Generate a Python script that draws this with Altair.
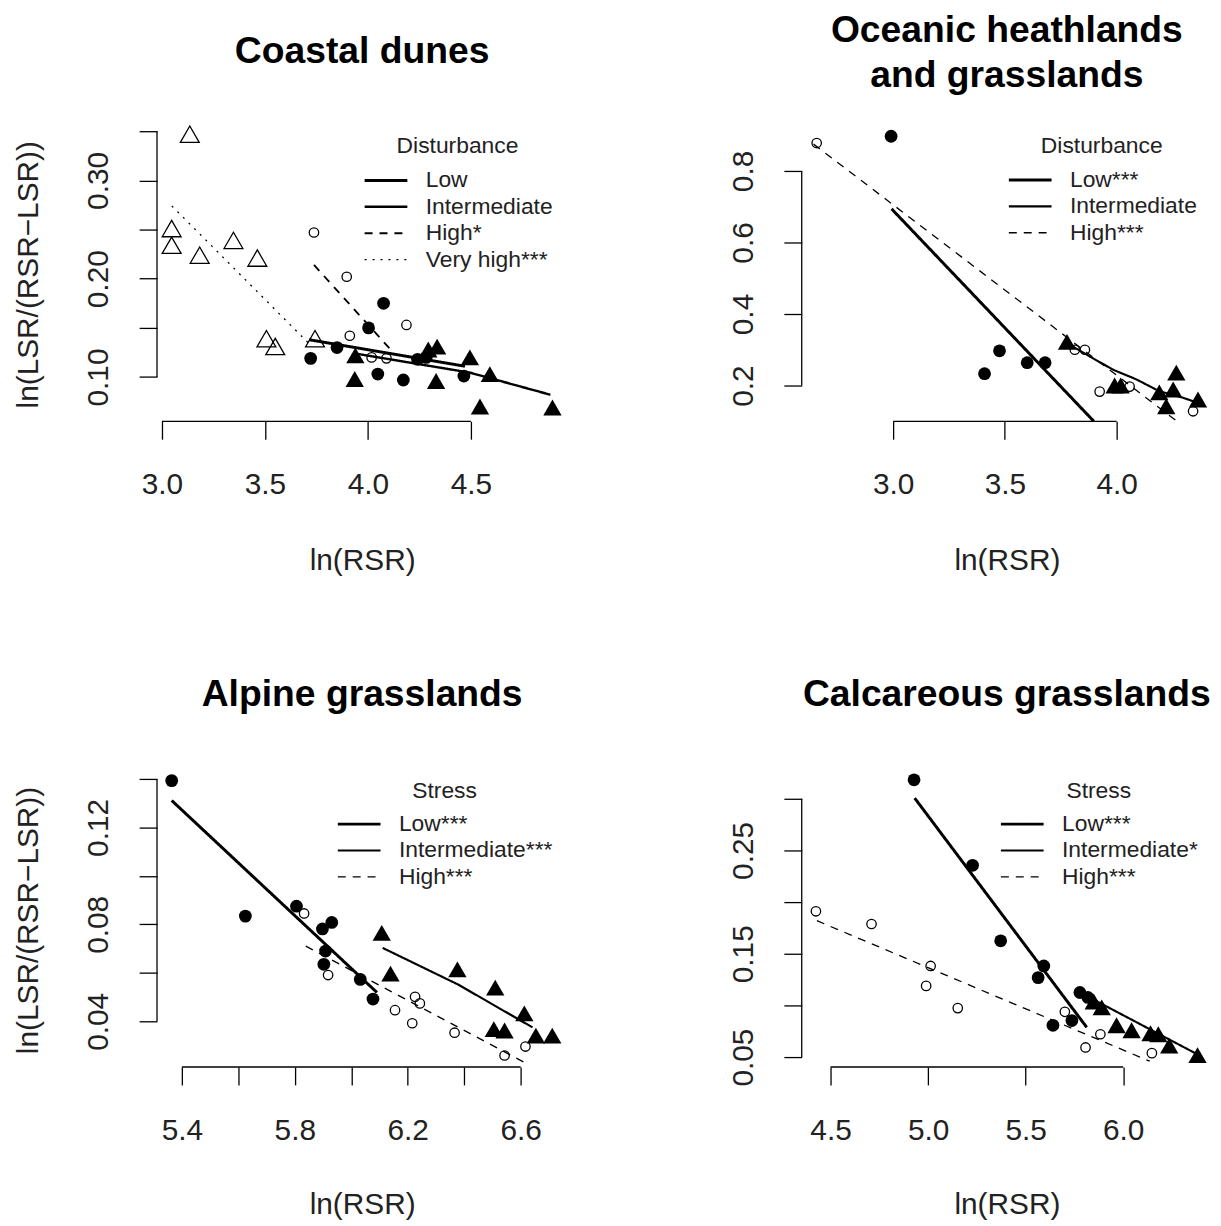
import altair as alt
import pandas as pd

FONT = "Liberation Sans"
TXT = "#222222"

# ---------------- Panel 1: Coastal dunes ----------------
cd_low_x = [3.722, 3.850, 4.003, 4.076, 4.048, 4.172, 4.241, 4.283, 4.466]
cd_low_y = [0.119, 0.130, 0.150, 0.175, 0.103, 0.097, 0.118, 0.120, 0.101]
cd_int_x = [3.939, 3.936, 4.293, 4.336, 4.495, 4.592, 4.331, 4.544, 4.896]
cd_int_y = [0.122, 0.098, 0.128, 0.131, 0.120, 0.103, 0.096, 0.070, 0.069]
cd_high_x = [3.738, 3.897, 3.912, 4.187, 4.018, 4.090]
cd_high_y = [0.247, 0.202, 0.142, 0.153, 0.120, 0.119]
cd_vhigh_x = [3.135, 3.047, 3.047, 3.183, 3.347, 3.463, 3.507, 3.550, 3.743]
cd_vhigh_y = [0.347, 0.251, 0.234, 0.224, 0.239, 0.221, 0.139, 0.131, 0.139]
cd_fit_low_x, cd_fit_low_y = [3.714, 4.471], [0.138, 0.111]
cd_fit_int_x, cd_fit_int_y = [3.936, 4.495, 4.886], [0.124, 0.1045, 0.082]
cd_fit_high_x, cd_fit_high_y = [3.738, 4.110], [0.214, 0.128]
cd_fit_vhigh_x, cd_fit_vhigh_y = [3.048, 3.714], [0.274, 0.134]
cd_labels = ["Low", "Intermediate", "High*", "Very high***"]

# ---------------- Panel 2: Oceanic heathlands ----------------
oh_low_x = [2.991, 3.409, 3.476, 3.600, 3.680]
oh_low_y = [0.897, 0.233, 0.297, 0.264, 0.264]
oh_int_x = [3.778, 3.991, 4.018, 4.267, 4.191, 4.253, 4.222, 4.364]
oh_int_y = [0.322, 0.200, 0.200, 0.236, 0.181, 0.189, 0.142, 0.161]
oh_high_x = [2.658, 3.813, 3.858, 3.924, 4.058, 4.342]
oh_high_y = [0.878, 0.300, 0.300, 0.183, 0.197, 0.128]
oh_fit_low_x, oh_fit_low_y = [2.993, 3.898], [0.694, 0.100]
oh_fit_int_x = [3.778, 3.880, 3.985, 4.089, 4.191, 4.296, 4.385]
oh_fit_int_y = [0.319, 0.281, 0.244, 0.217, 0.184, 0.166, 0.147]
oh_fit_high_x, oh_fit_high_y = [2.644, 4.270], [0.875, 0.100]
oh_labels = ["Low***", "Intermediate", "High***"]

# ---------------- Panel 3: Alpine grasslands ----------------
ag_low_x = [5.364, 5.625, 5.806, 5.898, 5.931, 5.909, 5.903, 6.032, 6.077]
ag_low_y = [0.1393, 0.0834, 0.0875, 0.0781, 0.0808, 0.0690, 0.0635, 0.0573, 0.0492]
ag_int_x = [6.108, 6.139, 6.376, 6.510, 6.613, 6.505, 6.543, 6.654, 6.712]
ag_int_y = [0.0765, 0.0597, 0.0614, 0.0539, 0.0433, 0.0368, 0.0362, 0.0341, 0.0341]
ag_high_x = [5.833, 5.918, 6.155, 6.226, 6.243, 6.216, 6.366, 6.543, 6.617]
ag_high_y = [0.0845, 0.0591, 0.0446, 0.0501, 0.0474, 0.0392, 0.0353, 0.0259, 0.0296]
ag_fit_low_x, ag_fit_low_y = [5.364, 6.091], [0.1311, 0.0519]
ag_fit_int_x, ag_fit_int_y = [6.111, 6.378, 6.642], [0.0703, 0.0552, 0.0375]
ag_fit_high_x, ag_fit_high_y = [5.839, 6.611], [0.0710, 0.0232]
ag_labels = ["Low***", "Intermediate***", "High***"]

# ---------------- Panel 4: Calcareous grasslands ----------------
cg_low_x = [4.928, 5.228, 5.372, 5.593, 5.564, 5.640, 5.737, 5.778, 5.819]
cg_low_y = [0.3183, 0.2356, 0.1625, 0.1382, 0.1269, 0.0808, 0.0853, 0.1125, 0.1077]
cg_int_x = [5.849, 5.890, 5.966, 6.043, 6.140, 6.180, 6.236, 6.381]
cg_int_y = [0.1038, 0.0981, 0.0808, 0.0760, 0.0731, 0.0721, 0.0611, 0.0519]
cg_high_x = [4.425, 4.710, 5.013, 4.990, 5.152, 5.701, 5.807, 5.883, 6.147]
cg_high_y = [0.1911, 0.1788, 0.1382, 0.1189, 0.0974, 0.0938, 0.0593, 0.0721, 0.0538]
cg_fit_low_x, cg_fit_low_y = [4.931, 5.813], [0.3007, 0.0788]
cg_fit_int_x, cg_fit_int_y = [5.763, 6.391], [0.1141, 0.0516]
cg_fit_high_x, cg_fit_high_y = [4.430, 6.136], [0.182, 0.046]
cg_labels = ["Low***", "Intermediate*", "High***"]

# point style per group: Low, Intermediate, High, Very high
SHAPES = ["circle", "triangle-up", "circle", "triangle-up"]
FILLED = [True, True, False, False]
SIZES = [165, 340, 90, 360]
DASHES = [[1, 0], [1, 0], [8, 7], [2, 6]]
WIDTHS = [3.0, 1.3, 1.3, 1.8]

W, H = 413, 300


def frame(xs, ys):
    return pd.DataFrame({"x": xs, "y": ys})


def line_frame(series):
    rows = []
    for lab, xs, ys in series:
        for a, b in zip(xs, ys):
            rows.append({"x": a, "y": b, "lab": lab})
    return pd.DataFrame(rows)


def panel(title, title_offset, groups, lns, labels, xdom, ydom, xt, yt, xfmt_expr, yfmt_expr,
          ytitle, xtitle_y, leg_title, leg_x, leg_y, leg_tpad):
    n = len(labels)
    xs = alt.Scale(domain=xdom, nice=False, zero=False)
    ys = alt.Scale(domain=ydom, nice=False, zero=False)
    common_axis = dict(
        domain=False, grid=False, ticks=True, tickSize=18, tickWidth=1.3,
        tickColor="black", labelFont=FONT, labelFontSize=30, labelColor=TXT,
        labelOverlap=False, labelFlush=False, labelBound=False,
        titleFont=FONT, titleFontSize=30, titleFontWeight="normal", titleColor=TXT,
    )
    xaxis = alt.Axis(values=xt, labelExpr=xfmt_expr, title="ln(RSR)",
                     labelBaseline="alphabetic", labelAlign="center", labelPadding=55,
                     titleBaseline="alphabetic", titleY=xtitle_y, **common_axis)
    yargs = dict(values=yt, labelExpr=yfmt_expr, labelAngle=270, labelAlign="center",
                 labelBaseline="alphabetic", labelPadding=32, **common_axis)
    if ytitle:
        yaxis = alt.Axis(title=ytitle, titleAngle=270, titleAlign="center",
                         titleBaseline="alphabetic", titleX=-120, titleY=152, **yargs)
    else:
        yaxis = alt.Axis(title=None, **yargs)

    legend = alt.Legend(
        orient="none", legendX=leg_x, legendY=leg_y, title=leg_title,
        titleFont=FONT, titleFontSize=23, titleFontWeight="normal", titleColor=TXT,
        titleAnchor="middle", titlePadding=leg_tpad,
        labelFont=FONT, labelFontSize=23, labelColor=TXT, labelOffset=17, labelLimit=400,
        symbolType="stroke", symbolSize=1849, symbolStrokeColor="black",
        clipHeight=23, rowPadding=2.6, padding=0, offset=0,
    )

    layers = []
    for i, (gx, gy) in enumerate(groups):
        layers.append(
            alt.Chart(frame(gx, gy)).mark_point(
                shape=SHAPES[i], size=SIZES[i], filled=FILLED[i], color="black",
                opacity=1, strokeWidth=1.3,
            ).encode(x=alt.X("x:Q", scale=xs, axis=xaxis), y=alt.Y("y:Q", scale=ys, axis=yaxis))
        )
    layers.append(
        alt.Chart(lns).mark_line(color="black", clip=True).encode(
            x=alt.X("x:Q", scale=xs, axis=xaxis),
            y=alt.Y("y:Q", scale=ys, axis=yaxis),
            strokeDash=alt.StrokeDash("lab:N", scale=alt.Scale(domain=labels, range=DASHES[:n]), legend=legend),
            strokeWidth=alt.StrokeWidth("lab:N", scale=alt.Scale(domain=labels, range=WIDTHS[:n]), legend=legend),
            order="x:Q",
        )
    )
    xr = pd.DataFrame({"x": [xt[0]], "x2": [xt[-1]], "y": [ydom[0]]})
    yr = pd.DataFrame({"x": [xdom[0]], "y": [yt[0]], "y2": [yt[-1]]})
    layers.append(alt.Chart(xr).mark_rule(color="black", strokeWidth=1.3).encode(
        x=alt.X("x:Q", scale=xs, axis=xaxis), x2="x2:Q",
        y=alt.Y("y:Q", scale=ys, axis=yaxis)))
    layers.append(alt.Chart(yr).mark_rule(color="black", strokeWidth=1.3).encode(
        x=alt.X("x:Q", scale=xs, axis=xaxis),
        y=alt.Y("y:Q", scale=ys, axis=yaxis), y2="y2:Q"))
    return alt.layer(*layers).properties(
        width=W, height=H,
        title=alt.TitleParams(text=title, font=FONT, fontSize=37.5, fontWeight="bold",
                              color="black", anchor="middle", frame="group",
                              baseline="middle", offset=title_offset, lineHeight=45),
    )


F1 = "format(datum.value, '.1f')"
Y_CD = "round(datum.value*100) % 10 == 0 ? format(datum.value, '.2f') : ''"
Y_AG = "round(datum.value*100) % 4 == 0 ? format(datum.value, '.2f') : ''"
X_AG = "round(datum.value*10) % 4 == 2 ? format(datum.value, '.1f') : ''"
Y_CG = "round(datum.value*100) % 10 == 5 ? format(datum.value, '.2f') : ''"
YLAB = "ln(LSR/(RSR\u2212LSR))"

p1 = panel(
    "Coastal dunes", 34,
    [(cd_low_x, cd_low_y), (cd_int_x, cd_int_y), (cd_high_x, cd_high_y), (cd_vhigh_x, cd_vhigh_y)],
    line_frame([(cd_labels[0], cd_fit_low_x, cd_fit_low_y), (cd_labels[1], cd_fit_int_x, cd_fit_int_y),
                (cd_labels[2], cd_fit_high_x, cd_fit_high_y), (cd_labels[3], cd_fit_vhigh_x, cd_fit_vhigh_y)]),
    cd_labels, [2.9759, 4.968], [0.055, 0.3581], [3.0, 3.5, 4.0, 4.5],
    [0.10, 0.15, 0.20, 0.25, 0.30, 0.35], F1, Y_CD, YLAB, 149, "Disturbance", 207.5, 12, 11)

p2 = panel(
    ["Oceanic heathlands", "and grasslands"], 10,
    [(oh_low_x, oh_low_y), (oh_int_x, oh_int_y), (oh_high_x, oh_high_y)],
    line_frame([(oh_labels[0], oh_fit_low_x, oh_fit_low_y), (oh_labels[1], oh_fit_int_x, oh_fit_int_y),
                (oh_labels[2], oh_fit_high_x, oh_fit_high_y)]),
    oh_labels, [2.5911, 4.4267], [0.1, 0.9333], [3.0, 3.5, 4.0],
    [0.2, 0.4, 0.6, 0.8], F1, F1, None, 149, "Disturbance", 207, 12, 10.5)

p3 = panel(
    "Alpine grasslands", 37,
    [(ag_low_x, ag_low_y), (ag_int_x, ag_int_y), (ag_high_x, ag_high_y)],
    line_frame([(ag_labels[0], ag_fit_low_x, ag_fit_low_y), (ag_labels[1], ag_fit_int_x, ag_fit_int_y),
                (ag_labels[2], ag_fit_high_x, ag_fit_high_y)]),
    ag_labels, [5.312, 6.7652], [0.02115, 0.1441], [5.4, 5.6, 5.8, 6.0, 6.2, 6.4, 6.6],
    [0.04, 0.06, 0.08, 0.10, 0.12, 0.14], X_AG, Y_AG, YLAB, 147, "Stress", 180.5, 11, 10)

p4 = panel(
    "Calcareous grasslands", 37,
    [(cg_low_x, cg_low_y), (cg_int_x, cg_int_y), (cg_high_x, cg_high_y)],
    line_frame([(cg_labels[0], cg_fit_low_x, cg_fit_low_y), (cg_labels[1], cg_fit_int_x, cg_fit_int_y),
                (cg_labels[2], cg_fit_high_x, cg_fit_high_y)]),
    cg_labels, [4.3523, 6.4552], [0.0404, 0.3288], [4.5, 5.0, 5.5, 6.0],
    [0.05, 0.10, 0.15, 0.20, 0.25, 0.30], F1, Y_CG, None, 147, "Stress", 199, 11, 10)

chart = alt.concat(
    p1, p2, p3, p4, columns=2, spacing={"row": 350, "column": 236}, bounds="flush"
).resolve_scale(
    x="independent", y="independent", strokeDash="independent", strokeWidth="independent",
).resolve_legend(
    strokeDash="independent", strokeWidth="independent",
).configure_view(stroke="transparent").properties(
    padding={"left": 5, "top": 0, "right": 0, "bottom": 0}
)

chart.save("out.html", embed_options={"renderer": "svg", "actions": False})
